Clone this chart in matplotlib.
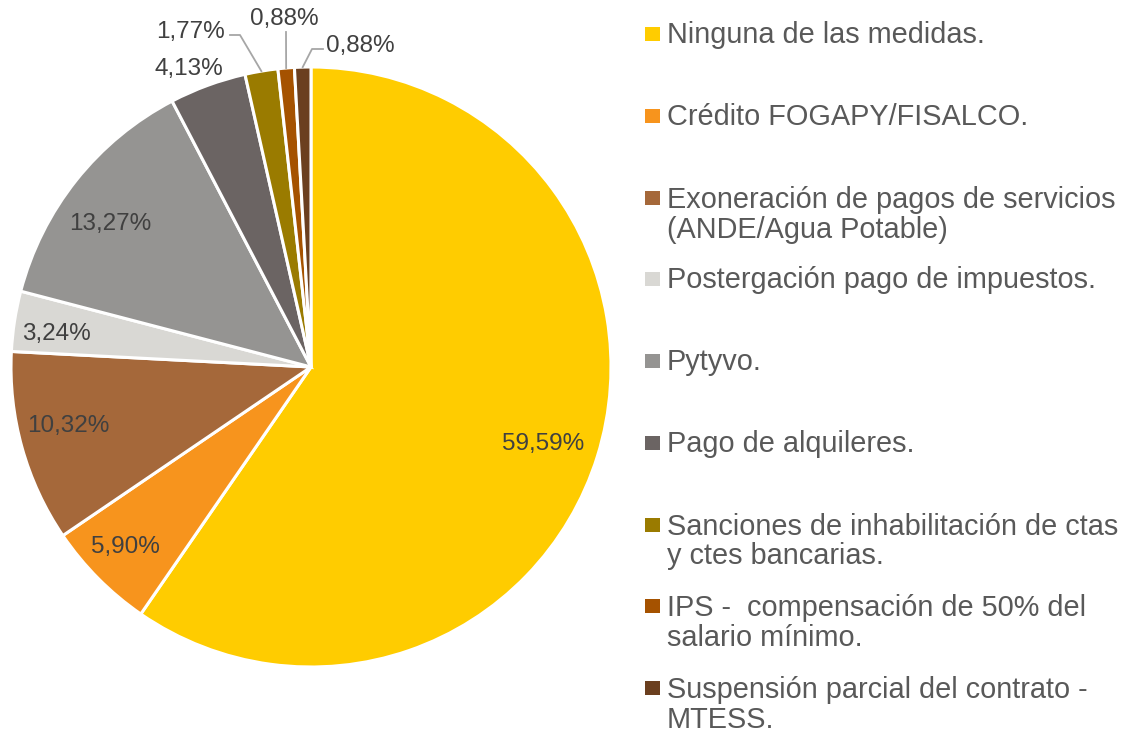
import numpy as np
import matplotlib.pyplot as plt
from matplotlib.patches import Rectangle

plt.rcParams['font.family'] = ['Liberation Sans', 'DejaVu Sans']

# Data
labels = [
    'Ninguna de las medidas.',
    'Crédito FOGAPY/FISALCO.',
    'Exoneración de pagos de servicios\n(ANDE/Agua Potable)',
    'Postergación pago de impuestos.',
    'Pytyvo.',
    'Pago de alquileres.',
    'Sanciones de inhabilitación de ctas\ny ctes bancarias.',
    'IPS -  compensación de 50% del\nsalario mínimo.',
    'Suspensión parcial del contrato -\nMTESS.',
]
values = [59.59, 5.90, 10.32, 3.24, 13.27, 4.13, 1.77, 0.88, 0.88]
colors = ['#FFCC00', '#F7941D', '#A5683A', '#D9D8D4', '#959492',
          '#6B6463', '#9A7B00', '#A55200', '#6B3F1F']

W, H = 1127, 735
cx, cy, R = 311, H - 367, 300

fig = plt.figure(figsize=(W / 100, H / 100), dpi=100)
ax = fig.add_axes([0, 0, 1, 1])

wedges, _ = ax.pie(values, colors=colors, startangle=90, counterclock=False,
                   center=(cx, cy), radius=R,
                   wedgeprops=dict(edgecolor='white', linewidth=2.2))
ax.set_xlim(0, W)
ax.set_ylim(0, H)
ax.set_aspect('auto')
ax.axis('off')

# label anchors (image pixels: x centre, baseline), Excel "best fit" layout
label_pos = [(543, 450), (125, 553), (68, 432), (56, 340), (110, 230),
             (189, 75), (191, 38), (284, 25), (360, 52)]
# leader lines: text-side anchor and elbow (image pixels); None = no leader
leaders = [None, None, None, None, None, None,
           [(230, 35), (240, 35)], [(286, 32), (286, 32)], [(323, 49), (312, 49)]]

for w, v, (px, py), ld in zip(wedges, values, label_pos, leaders):
    txt = f'{v:.2f}%'.replace('.', ',')
    ax.text(px, H - py, txt, ha='center', va='baseline', fontsize=17.5, color='#404040')
    if ld is not None:
        mid = np.deg2rad((w.theta1 + w.theta2) / 2)
        ex, ey = cx + R * np.cos(mid), cy + R * np.sin(mid)
        xs = [ld[0][0], ld[1][0], ex]
        ys = [H - ld[0][1], H - ld[1][1], ey]
        ax.plot(xs, ys, color='#A6A6A6', lw=1.3)

# legend: first-line baselines evenly spaced
line_h = 31
for i, (lab, col) in enumerate(zip(labels, colors)):
    base = 43 + 81.75 * i
    nl = lab.count('\n')
    ax.add_patch(Rectangle((645, H - base + 2), 15, 14, color=col, lw=0))
    ax.text(667, H - base - nl * line_h, lab, ha='left', va='baseline',
            fontsize=20.8, color='#595959', linespacing=1.08)

fig.savefig('out.png', dpi=100)
